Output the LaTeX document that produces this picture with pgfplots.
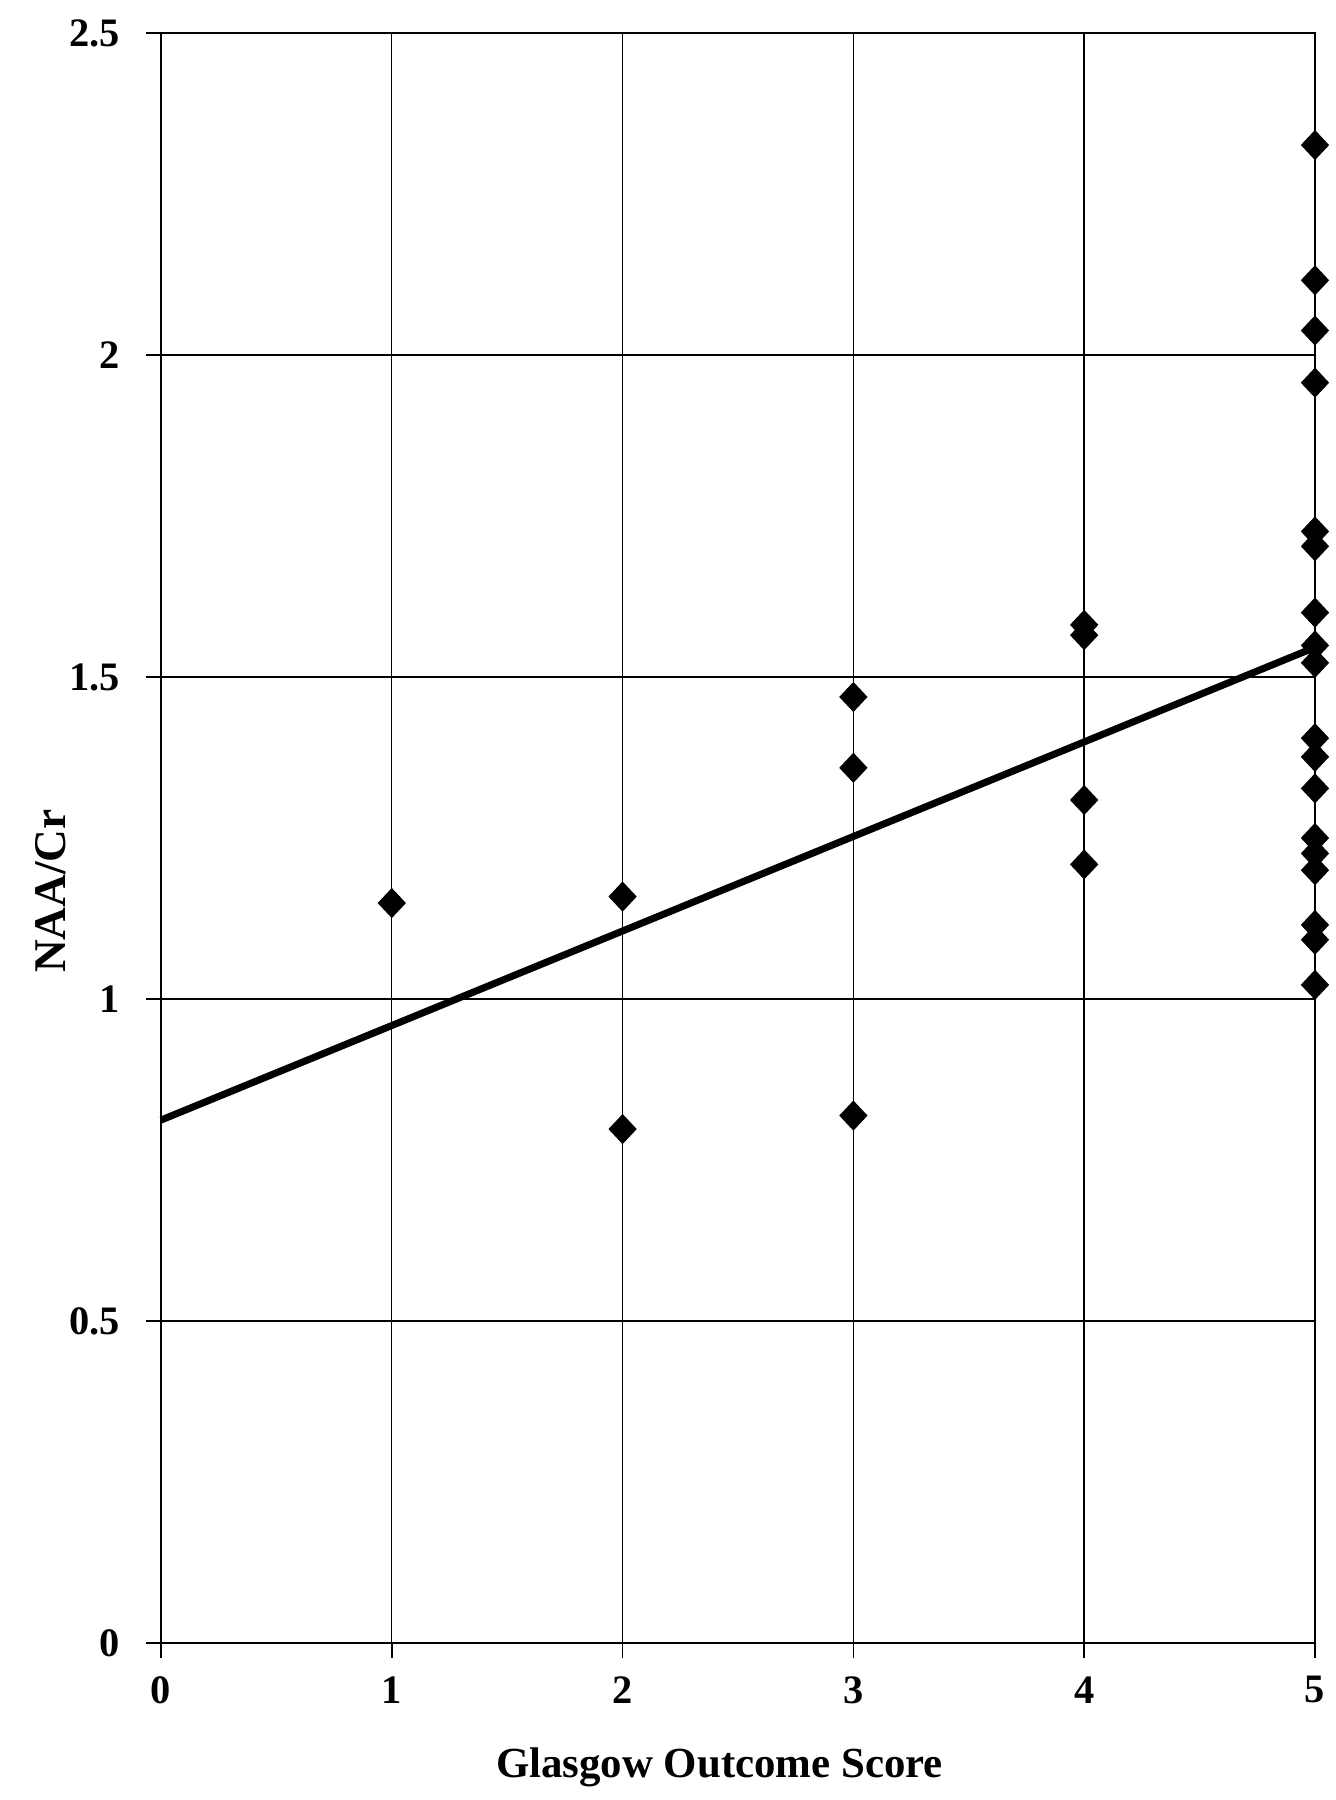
\documentclass[border=0pt]{standalone}
\usepackage{pgfplots}
\pgfplotsset{compat=1.18}
\usepackage{fontspec}
\setmainfont{Liberation Serif}

\begin{document}
\begin{tikzpicture}
\begin{axis}[
    at={(0,0)}, anchor=south west,
    scale only axis,
    width=115.4mm, height=161mm,
    xmin=0, xmax=5, ymin=0, ymax=2.5,
    xtick={0,1,2,3,4,5},
    ytick={0,0.5,1,1.5,2,2.5},
    yticklabels={0,0.5,1,1.5,2,2.5},
    xtick pos=bottom, ytick pos=left,
    xmajorgrids, ymajorgrids,
    grid style={black, line width=0.4pt},
    axis line style={black, line width=0.5pt},
    tick align=outside,
    major tick length=1.5mm,
    tick style={black, line width=0.5pt},
    /pgf/number format/assume math mode=true,
    ticklabel style={font=\bfseries\fontsize{11.5}{13}\selectfont},
    xticklabel style={yshift=-0.6mm},
    yticklabel style={xshift=-1.4mm},
    xlabel={Glasgow Outcome Score},
    ylabel={NAA/Cr},
    x label style={font=\bfseries\fontsize{12.2}{14}\selectfont,
        at={(axis description cs:0.484,-0.077)}, anchor=center},
    y label style={font=\bfseries\fontsize{12.9}{15}\selectfont,
        at={(axis description cs:-0.096,0.467)}, anchor=center},
    clip=false,
]
% regression line
\addplot[black, line width=2pt] coordinates {(0,0.812) (5,1.546)};
% patients
\addplot[only marks, mark=diamond*, mark size=4pt, black,
    mark options={xscale=1.25, fill=black}] coordinates {
    (1,1.149)
    (2,1.159) (2,0.798)
    (3,1.469) (3,1.359) (3,0.819)
    (4,1.581) (4,1.565) (4,1.309) (4,1.209)
    (5,2.326) (5,2.116) (5,2.038) (5,1.957) (5,1.726) (5,1.703)
    (5,1.600) (5,1.549) (5,1.522) (5,1.405) (5,1.376) (5,1.327)
    (5,1.250) (5,1.226) (5,1.200) (5,1.115) (5,1.092) (5,1.022)
};
\end{axis}
\pgfresetboundingbox
\path[use as bounding box] (-16.1mm,-15.7mm) rectangle (117.5mm,164.3mm);
\end{tikzpicture}
\end{document}
